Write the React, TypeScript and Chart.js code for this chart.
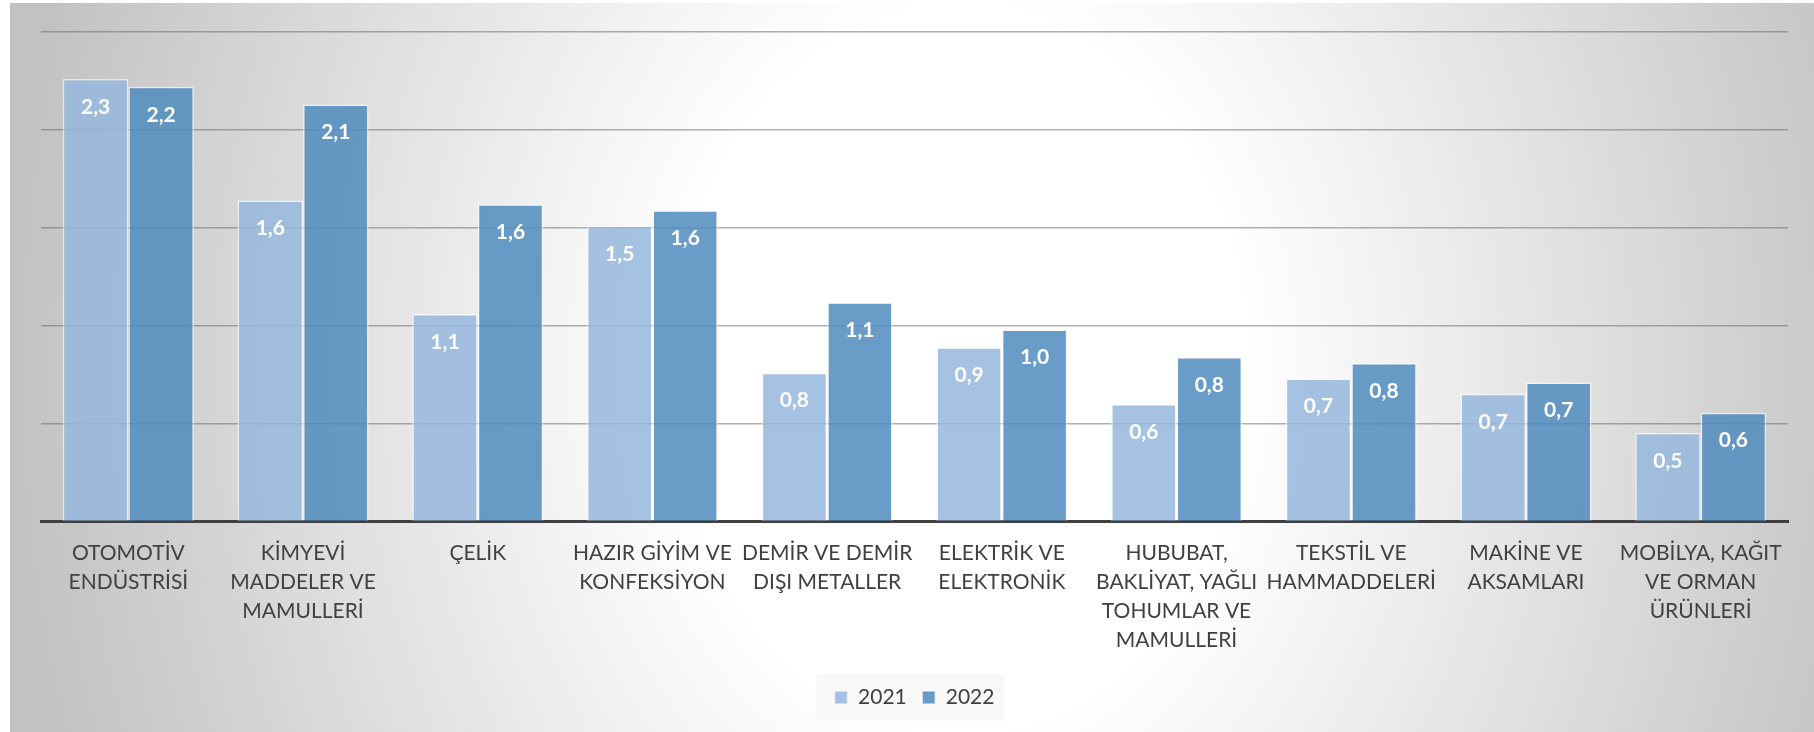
import React, { useEffect, useRef } from "react";
import { Chart, registerables } from "chart.js";

Chart.register(...registerables);

const categories: string[][] = [
  ["OTOMOTİV", "ENDÜSTRİSİ"],
  ["KİMYEVİ", "MADDELER VE", "MAMULLERİ"],
  ["ÇELİK"],
  ["HAZIR GİYİM VE", "KONFEKSİYON"],
  ["DEMİR VE DEMİR", "DIŞI METALLER"],
  ["ELEKTRİK VE", "ELEKTRONİK"],
  ["HUBUBAT,", "BAKLİYAT, YAĞLI", "TOHUMLAR VE", "MAMULLERİ"],
  ["TEKSTİL VE", "HAMMADDELERİ"],
  ["MAKİNE VE", "AKSAMLARI"],
  ["MOBİLYA, KAĞIT", "VE ORMAN", "ÜRÜNLERİ"],
];

const values2021: number[] = [2.26, 1.64, 1.06, 1.51, 0.76, 0.89, 0.6, 0.73, 0.652, 0.452];
const values2022: number[] = [2.22, 2.13, 1.62, 1.59, 1.12, 0.98, 0.84, 0.81, 0.71, 0.556];

const seriesNames = ["2021", "2022"];
const yMax = 2.5;
const yStep = 0.5;

const FONT = "Lato, 'Open Sans', sans-serif";

const backgroundPlugin = {
  id: "bgGradient",
  beforeDraw(chart: any) {
    const { ctx, width, height } = chart;
    ctx.save();
    const cx = 950;
    const cy = 367;
    const rx = 950;
    const ry = 1200;
    ctx.translate(cx, cy);
    ctx.scale(1, ry / rx);
    const g = ctx.createRadialGradient(0, 0, 0, 0, 0, rx);
    g.addColorStop(0, "#ffffff");
    g.addColorStop(0.3, "#ffffff");
    g.addColorStop(1, "#c2c2c2");
    ctx.fillStyle = g;
    ctx.fillRect(-cx, -cy * (rx / ry), width, height * (rx / ry));
    ctx.restore();

    // legend background box
    const lg = chart.legend;
    if (lg && lg.legendHitBoxes && lg.legendHitBoxes.length) {
      const boxes = lg.legendHitBoxes;
      const left = boxes[0].left - 18;
      const last = boxes[boxes.length - 1];
      const right = last.left + last.width + 10;
      const cyL = boxes[0].top + boxes[0].height / 2;
      ctx.save();
      ctx.fillStyle = "#f8f8f8";
      ctx.fillRect(left, cyL - 23, right - left, 46);
      ctx.restore();
    }
  },
};

const valueLabelPlugin = {
  id: "valueLabels",
  afterDatasetsDraw(chart: any) {
    const { ctx } = chart;
    ctx.save();
    ctx.fillStyle = "#ffffff";
    ctx.font = `bold 21px ${FONT}`;
    ctx.textAlign = "center";
    ctx.textBaseline = "middle";
    chart.data.datasets.forEach((ds: any, di: number) => {
      const meta = chart.getDatasetMeta(di);
      meta.data.forEach((bar: any, i: number) => {
        const v = ds.data[i] as number;
        const txt = v.toFixed(1).replace(".", ",");
        ctx.fillText(txt, bar.x, bar.y + 28);
      });
    });
    ctx.restore();
  },
};

export default function App() {
  const canvasRef = useRef<HTMLCanvasElement | null>(null);

  useEffect(() => {
    if (!canvasRef.current) return;
    const chart = new Chart(canvasRef.current, {
      type: "bar",
      data: {
        labels: categories,
        datasets: [
          {
            label: seriesNames[0],
            data: values2021,
            backgroundColor: "rgba(151,183,221,0.85)",
            borderColor: "rgba(255,255,255,0.6)",
            borderWidth: 1.5,
            borderSkipped: "bottom",
          },
          {
            label: seriesNames[1],
            data: values2022,
            backgroundColor: "rgba(80,139,190,0.85)",
            borderColor: "rgba(255,255,255,0.6)",
            borderWidth: 1.5,
            borderSkipped: "bottom",
          },
        ],
      },
      options: {
        animation: false,
        responsive: true,
        maintainAspectRatio: false,
        layout: { padding: { left: 31, right: 26, top: 29, bottom: 14 } },
        datasets: { bar: { categoryPercentage: 0.75, barPercentage: 1 } },
        plugins: {
          tooltip: { enabled: false },
          legend: {
            position: "bottom",
            labels: {
              boxWidth: 13,
              boxHeight: 13,
              padding: 15.5,
              color: "#404040",
              font: { family: FONT, size: 21 },
            },
          },
        },
        scales: {
          x: {
            grid: { display: false, drawTicks: false },
            border: { display: true, color: "#404040", width: 3 },
            ticks: {
              autoSkip: false,
              maxRotation: 0,
              minRotation: 0,
              padding: 17,
              color: "#404040",
              font: { family: FONT, size: 21, lineHeight: 29 / 21 },
            },
          },
          y: {
            min: 0,
            max: yMax,
            ticks: { display: false, stepSize: yStep },
            border: { display: false },
            grid: {
              drawTicks: false,
              lineWidth: 1.5,
              color: (c: any) => (c.tick && c.tick.value === 0 ? "rgba(0,0,0,0)" : "rgba(110,110,110,0.55)"),
            },
          },
        },
      },
      plugins: [backgroundPlugin, valueLabelPlugin],
    });
    return () => chart.destroy();
  }, []);

  return (
    <div style={{ position: "absolute", left: 10, top: 3, width: 1804, height: 729 }}>
      <canvas ref={canvasRef} />
    </div>
  );
}
